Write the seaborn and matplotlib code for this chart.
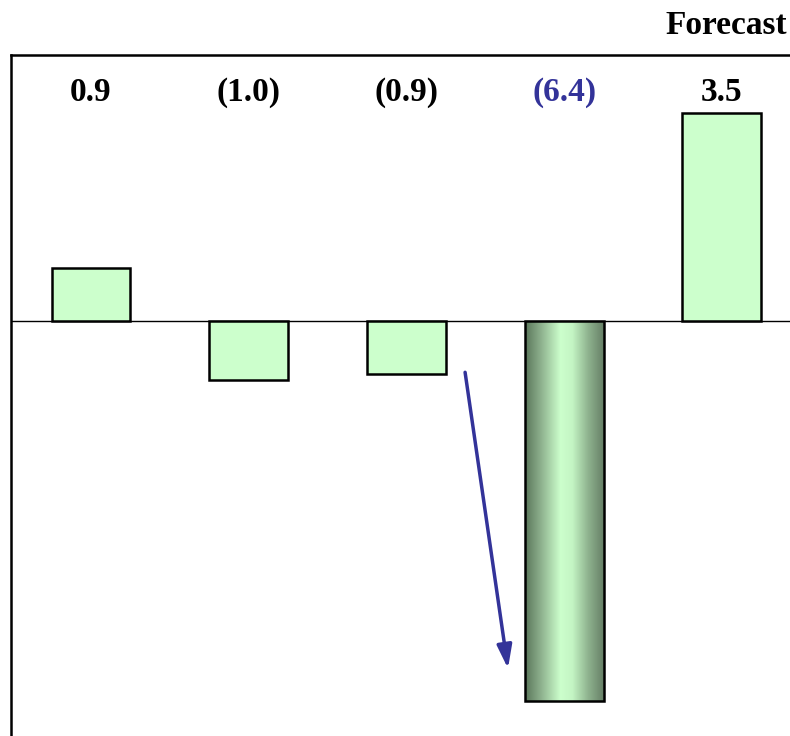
import numpy as np
import pandas as pd
import matplotlib
matplotlib.use("Agg")
import matplotlib.pyplot as plt
import seaborn as sns
from matplotlib.colors import LinearSegmentedColormap

periods = ["P1", "P2", "P3", "P4", "P5"]
values = [0.9, -1.0, -0.9, -6.4, 3.5]
labels = ["0.9", "(1.0)", "(0.9)", "(6.4)", "3.5"]
label_colors = ["black", "black", "black", "#333399", "black"]
header = "Forecast"

sns.set_style("white")
plt.rcParams["font.family"] = ["Liberation Serif", "DejaVu Serif"]

fig = plt.figure(figsize=(7.9, 7.36), dpi=100)
W, H = 790, 736
left_px, right_px, top_px, bottom_px = 11, 790, 55, 736
ax = fig.add_axes([left_px / W, 1 - bottom_px / H,
                   (right_px - left_px) / W, (bottom_px - top_px) / H])

df = pd.DataFrame({"period": periods, "value": values})
sns.barplot(data=df, x="period", y="value", order=periods, color="#CCFFCC",
            saturation=1, width=0.5, edgecolor="black", linewidth=1.8,
            ax=ax, zorder=3)

ax.set_xlim(-0.507, 4.432)
ax.set_ylim(-6.987, 4.478)
ax.axhline(0, color="black", lw=1.0, zorder=1)

# shaded cylinder look for the highlighted bar
bar = ax.patches[3]
bx, by = bar.get_x(), bar.get_y()
bw, bh = bar.get_width(), bar.get_height()
shade = LinearSegmentedColormap.from_list(
    "shade", [(0.0, "#5A765A"), (0.2, "#8DB08D"), (0.45, "#CCFFCC"),
              (0.6, "#C4F5C4"), (0.8, "#8FB38F"), (1.0, "#667F66")])
grad = np.linspace(0, 1, 256).reshape(1, -1)
img = ax.imshow(grad, cmap=shade, aspect="auto",
                extent=[bx, bx + bw, by, by + bh], zorder=3.5)
img.set_clip_path(bar)
bar.set_facecolor("none")
bar.set_zorder(4)

for i, (lab, col) in enumerate(zip(labels, label_colors)):
    ax.text(i, 3.85, lab, ha="center", va="center", fontsize=24,
            fontweight="bold", color=col)

ax.annotate("", xy=(2.644, -5.85), xytext=(2.372, -0.864),
            arrowprops=dict(arrowstyle="-|>,head_length=1.4,head_width=0.45",
                            color="#333399", lw=2.5, shrinkA=0, shrinkB=0))

fig.text(787 / W, 1 - 25 / H, header, ha="right", va="center",
         fontsize=24, fontweight="bold", color="black")

for s in ["right", "bottom"]:
    ax.spines[s].set_visible(False)
for s in ["left", "top"]:
    ax.spines[s].set_color("black")
    ax.spines[s].set_linewidth(1.8)
ax.set_xticks([])
ax.set_yticks([])
ax.set_xlabel("")
ax.set_ylabel("")

fig.savefig("out.png", dpi=100)
